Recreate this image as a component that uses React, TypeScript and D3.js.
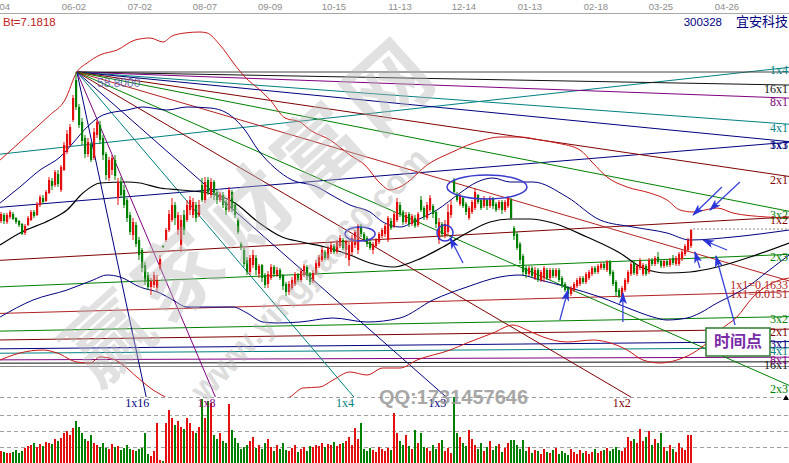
import React from 'react';
import * as d3 from 'd3';

// ---------------- data ----------------
const dateLabels = ['05-04','06-02','07-02','08-07','09-09','10-15','11-13','12-14','01-13','02-18','03-25','04-26'];
const dateIdx = [-1, 24.3, 46.3, 68, 89.7, 111, 133, 154.3, 176.3, 198.3, 220, 242];

// [open, close, high, low]
const candles: number[][] = [
  [43.9,44.6,44.8,43.7],[44.5,43.9,44.7,43.6],[43.8,44.5,44.7,43.6],[44.3,44.8,45.0,44.1],[44.6,44.1,44.8,44.0],
  [44.2,43.8,44.3,43.6],[43.9,43.5,44.0,43.3],[43.6,42.6,43.7,42.5],[42.7,43.4,43.6,42.5],[43.5,44.2,44.4,43.4],
  [44.0,44.8,45.0,43.9],[44.8,44.4,45.0,44.2],[44.5,45.6,45.8,44.4],[45.5,46.3,46.5,45.3],[46.2,45.8,46.5,45.6],
  [45.9,46.8,47.0,45.8],[46.7,48.0,48.3,46.6],[47.9,47.4,48.2,47.0],[47.5,48.8,49.0,47.3],[48.6,47.6,49.0,47.3],
  [47.0,49.3,49.5,46.8],[49.0,51.5,51.8,48.9],[50.8,52.6,53.0,50.6],[51.5,53.3,53.6,51.3],[54.0,56.2,56.5,53.8],
  [58.0,55.3,58.8,55.0],[55.3,53.5,55.6,53.2],[53.8,51.9,54.2,51.5],[52.2,50.6,52.5,50.2],[50.6,51.8,52.2,50.3],
  [51.5,50.0,51.8,49.8],[50.2,52.8,53.2,50.0],[52.5,53.8,54.0,52.2],[53.5,52.0,53.9,51.6],[52.2,50.5,52.5,50.0],
  [50.6,48.5,50.8,48.0],[48.2,50.0,50.3,47.9],[49.0,50.2,50.5,48.5],[50.0,48.4,50.5,48.0],[46.2,47.8,48.2,45.5],
  [47.8,46.5,48.3,46.2],[47.0,45.5,47.5,45.2],[46.0,44.2,46.2,43.8],[44.5,42.8,44.8,42.5],[42.5,43.8,44.2,42.0],
  [43.5,41.6,43.8,41.3],[42.0,40.5,42.3,40.0],[41.0,39.2,41.2,38.8],[39.5,37.8,39.8,37.5],[38.5,37.3,38.8,37.0],
  [37.3,37.9,38.2,36.5],[37.5,38.5,38.8,37.2],[37.2,38.0,38.5,36.8],[39.2,40.1,40.5,39.0],[41.4,41.3,41.5,41.2],
  [42.0,43.0,43.2,41.8],[43.0,44.6,45.0,42.8],[44.0,45.5,46.2,43.8],[45.5,44.2,45.8,43.5],[43.0,44.5,44.8,42.5],
  [41.5,44.0,44.5,40.8],[44.5,43.0,45.0,42.5],[44.0,45.5,46.0,43.8],[45.0,46.0,46.4,44.5],[44.5,45.8,46.2,44.2],
  [45.5,44.2,45.8,43.8],[44.5,45.5,46.0,44.3],[47.5,46.0,48.2,45.8],[46.0,47.8,48.3,45.7],[48.0,46.8,48.3,46.5],
  [46.5,47.8,48.2,46.2],[47.8,46.5,48.0,46.0],[46.8,46.0,47.0,45.6],[46.0,46.6,46.8,45.8],[46.5,45.5,46.8,45.2],
  [45.8,45.0,46.0,44.5],[45.0,47.0,47.3,44.8],[46.8,45.2,47.0,44.8],[45.5,44.5,45.8,44.2],[44.0,42.8,44.2,42.6],
  [41.6,41.3,41.8,41.0],[41.0,39.6,41.2,39.3],[40.0,38.8,40.3,38.5],[38.8,40.2,40.5,38.5],[39.5,40.5,41.0,39.2],
  [40.2,39.0,40.5,38.5],[38.6,39.4,39.6,38.2],[39.5,38.2,39.6,37.8],[38.5,37.5,38.7,37.2],[37.6,38.6,38.9,37.2],
  [38.2,39.3,39.6,38.0],[39.3,38.6,39.5,38.3],[38.5,39.0,39.3,38.3],[39.0,38.2,39.2,38.0],[38.5,37.4,38.6,37.0],
  [37.6,36.8,37.8,36.4],[36.8,37.6,37.9,36.5],[37.2,38.0,38.3,37.0],[37.6,38.6,38.8,37.4],[38.5,38.0,38.7,37.8],
  [38.0,38.9,39.2,37.8],[38.5,39.4,39.6,38.3],[39.3,38.4,39.5,38.0],[38.6,37.8,38.8,37.5],[37.9,38.7,39.0,37.7],
  [38.7,39.7,40.0,38.5],[39.4,40.3,40.5,39.2],[40.0,41.0,41.3,39.8],[40.8,40.2,41.0,40.0],[40.2,41.2,41.4,40.0],
  [40.8,41.5,41.8,40.6],[41.4,40.8,41.6,40.6],[40.8,41.8,42.0,40.6],[41.4,42.2,42.5,41.2],[42.0,41.2,42.2,41.0],
  [41.0,41.8,42.0,40.2],[40.0,41.5,41.8,39.4],[40.8,42.2,42.5,40.5],[41.5,42.8,43.0,41.2],[41.0,43.4,43.6,40.6],
  [43.4,42.6,43.6,42.3],[42.6,42.0,42.8,41.8],[42.2,41.6,42.4,41.3],[41.8,41.2,42.0,41.0],[41.0,41.6,41.8,40.6],
  [41.4,42.0,42.2,41.2],[41.8,42.6,42.8,41.6],[42.4,43.0,43.2,42.2],[42.6,43.4,43.6,42.3],[42.0,44.2,44.4,41.8],
  [43.9,43.2,44.2,43.0],[43.4,44.6,44.8,43.2],[44.0,45.8,46.2,43.8],[45.5,44.6,45.8,44.3],[44.8,43.8,45.0,43.5],
  [43.8,44.5,44.8,43.6],[44.6,43.6,44.8,43.3],[43.6,44.4,44.6,43.4],[44.2,43.4,44.5,43.2],[43.5,44.6,44.8,43.3],
  [46.0,45.0,46.4,44.8],[45.2,44.3,45.4,44.0],[44.2,45.5,45.8,44.0],[45.0,46.2,46.5,44.8],[45.4,44.6,45.6,44.2],
  [44.8,43.6,45.0,43.2],[42.0,43.8,44.2,41.6],[43.6,42.6,43.8,42.3],[42.4,43.6,44.0,42.2],[42.8,44.8,45.6,42.4],
  [44.5,45.5,46.0,44.2],[48.0,46.8,48.2,46.6],[46.6,46.0,46.8,45.8],[45.6,46.4,46.6,45.4],[46.2,45.4,46.4,45.2],
  [45.6,44.8,45.8,44.5],[44.2,45.2,45.4,44.0],[44.8,45.8,46.0,44.6],[45.2,46.8,47.2,45.0],[46.5,45.8,46.6,45.6],
  [46.0,45.2,46.2,45.0],[45.4,46.2,46.4,45.2],[46.0,45.4,46.2,45.0],[45.4,46.2,46.4,45.2],[46.2,45.4,46.3,45.1],
  [45.6,45.0,45.8,44.8],[45.2,45.8,46.0,45.0],[45.8,45.0,46.0,44.6],[45.0,45.8,46.0,44.8],[45.4,46.2,46.4,45.2],
  [46.0,44.2,46.2,44.0],[43.2,42.4,43.4,42.0],[42.6,41.2,42.8,41.0],[41.6,40.0,41.8,39.6],[40.4,38.8,40.6,38.5],
  [39.2,38.6,39.4,38.2],[38.6,39.2,39.4,38.4],[39.2,38.4,39.4,38.2],[38.2,39.0,39.3,38.0],[39.0,38.0,39.2,37.8],
  [38.0,38.8,39.0,37.8],[38.2,39.2,39.4,37.8],[39.0,38.2,39.2,38.0],[38.2,39.0,39.2,38.0],[39.0,38.4,39.2,38.2],
  [38.4,39.0,39.2,38.2],[39.0,38.0,39.2,37.8],[38.2,37.4,38.4,37.2],[37.6,37.0,37.8,36.8],[37.2,36.6,37.4,36.3],
  [36.6,37.2,37.4,36.4],[37.0,37.6,37.8,36.8],[37.4,38.0,38.2,37.2],[37.6,38.2,38.4,37.4],[38.2,37.8,38.4,37.6],
  [37.8,38.6,38.8,37.6],[38.2,38.8,39.0,38.0],[38.6,39.2,39.4,38.4],[39.2,38.8,39.4,38.6],[38.8,39.4,39.6,38.6],
  [39.2,39.6,39.8,39.0],[39.6,39.2,39.8,39.0],[39.0,39.8,40.0,38.8],[39.8,38.6,40.0,38.4],[38.8,37.6,39.0,37.4],
  [37.8,36.8,38.0,36.4],[37.0,36.4,37.2,36.2],[36.4,37.2,37.4,36.0],[37.0,38.0,38.2,36.8],[37.8,38.8,39.0,37.6],
  [38.6,39.6,39.8,38.4],[39.7,38.7,39.9,38.5],[38.6,39.4,39.6,38.4],[39.2,39.9,40.2,39.0],[38.6,39.5,39.7,38.4],
  [39.4,38.6,39.6,38.4],[38.8,40.0,40.2,38.6],[40.0,39.6,40.2,39.4],[39.6,40.2,40.4,39.4],[40.3,39.8,40.8,39.6],
  [39.9,39.4,40.0,39.2],[39.4,39.9,40.0,39.2],[39.9,39.5,40.0,39.3],[39.5,40.0,40.2,39.3],[40.2,39.7,40.5,39.5],
  [39.6,40.2,40.4,39.4],[39.6,40.6,40.8,39.4],[40.1,40.8,41.0,39.9],[40.6,41.4,41.6,40.4],[41.0,42.0,42.2,40.8],
  [41.4,43.0,43.1,41.2],
];

const volumes: number[] = [
  12,11,10,10,11,13,10,12,15,17, 18,20,16,19,17,21,20,19,24,22, 25,30,32,28,35,42,36,30,24,22,
  28,20,18,16,20,15,14,19,16,17, 13,15,18,14,13,12,14,15,30,9, 7,12,40,3,2,40,53,45,38,42,
  36,34,45,40,32,30,36,64,45,62, 60,28,24,30,22,20,59,33,25,20, 14,16,18,22,26,15,18,14,20,24,
  16,12,18,14,20,13,12,15,18,11, 14,16,12,17,16,18,17,20,16,19, 18,21,17,19,20,22,26,18,35,24,
  40,14,12,15,13,11,16,14,12,15, 13,50,30,22,18,28,17,14,33,20, 30,16,15,12,18,14,20,23,12,15,
  10,66,30,26,20,17,33,24,18,14, 20,12,16,22,13,17,19,11,15,20, 23,23,18,14,23,12,16,10,13,12,
  9,14,11,10,13,15,9,12,10,8, 14,11,9,13,10,12,9,11,14,10, 12,13,15,12,14,16,13,12,15,26,
  22,24,20,34,22,26,32,18,24,20, 30,16,12,18,14,11,20,15,13,28, 28,
];
const volGrid = [16, 32, 48, 66];

// bands: [bar index, price]
const redUpper = [[-0.3,50.0],[9.7,52.7],[16.3,54.5],[21.3,56.0],[25.3,58.8],[28.7,59.7],[33,60.5],[38.7,61.0],[44.7,62.0],[49.7,62.2],[54,61.8],[57,62.4],[61.3,62.7],[66.3,62.8],[68.7,62.7],[73,61.5],[78,59.5],[81.3,58.3],[86.3,57.0],[89.7,56.0],[94.7,54.2],[99.7,53.8],[103,53.0],[109.7,52.0],[116.3,50.5],[121.3,49.5],[126.3,47.7],[129.7,47.0],[133,47.3],[143,49.7],[149.7,50.7],[160.7,52.0],[166.3,52.3],[173,52.3],[179.7,52.0],[185.3,51.7],[193,51.0],[197.3,49.7],[202,48.3],[208.7,47.3],[216.3,46.7],[222,46.0],[226.3,45.0],[230.7,44.8],[238.7,45.2],[244,44.7],[255.3,44.3],[262.7,44.2]];
const redLower = [[-0.3,30.0],[6.3,30.7],[14,31.0],[18.7,30.7],[25.3,29.8],[29.7,29.7],[33,30.3],[37.3,30.1],[40.7,29.5],[45.3,28.3],[50.7,27.0],[55.3,26.2],[66.3,24.0],[83,24.0],[94,26.0],[96.3,26.3],[100.7,27.2],[106.3,27.3],[110.7,28.0],[116.3,28.8],[122,28.5],[127.3,29.2],[133,29.2],[138.7,30.0],[149.7,31.0],[155.3,31.7],[164,32.7],[170.7,33.5],[175.3,33.0],[180.7,32.3],[188.7,31.8],[197.3,32.0],[202,31.8],[208.7,31.0],[214,30.0],[219.7,29.7],[225.3,30.0],[230.7,30.7],[235.3,31.7],[239.7,33.0],[245.3,34.3],[250.7,36.3],[259.7,38.0],[262.7,38.2]];
const blueUpper = [[-0.3,45.7],[6.3,47.3],[13,49.0],[19.7,50.3],[24,51.7],[28.7,53.3],[34,54.5],[42,55.0],[47.3,55.3],[55.3,55.0],[62,55.3],[69.7,55.2],[75.3,54.7],[81.3,53.0],[85.7,51.0],[91.3,49.2],[97,48.0],[104.7,47.4],[111.3,46.3],[116.3,45.5],[123,44.8],[127.3,43.8],[133,43.3],[138.7,44.0],[145.3,45.0],[153,46.7],[158.7,47.8],[164,48.2],[169.7,47.8],[177.3,47.8],[188.7,46.3],[199.7,44.0],[210.7,43.3],[222,42.7],[229.7,42.0],[244,42.3],[262.7,43.0]];
const blueLower = [[-0.3,34.3],[10.7,36.0],[22,37.0],[30.7,38.0],[35.3,38.5],[39.7,38.3],[46.3,37.3],[53,36.7],[57.3,36.0],[62,35.3],[77.3,35.3],[82,34.7],[87.3,33.8],[92,33.7],[99.7,33.8],[110.7,34.2],[122,33.8],[133,34.2],[144,36.0],[155.3,37.3],[166.3,38.3],[173,38.5],[179.7,38.0],[188.7,37.3],[199.7,36.3],[210.7,35.0],[217.3,34.3],[222,34.0],[228.7,34.2],[233,34.7],[238.7,35.7],[244,36.5],[249.7,37.5],[255.3,38.8],[262.7,40.5]];
const maLine = [[-0.3,41.5],[6.3,42.7],[16.3,44.0],[22,45.0],[27.3,46.7],[33,47.7],[42,47.8],[46.3,47.7],[53,47.2],[59.7,47.0],[69,46.7],[78,45.7],[85.7,43.8],[93.7,42.3],[100.3,41.8],[108,41.3],[116.3,40.5],[123,39.7],[130.7,39.3],[138.7,40.0],[147.3,41.3],[155.3,42.7],[163,43.8],[169.7,44.1],[176.3,44.1],[184,43.7],[195.3,42.3],[206.3,40.7],[214,39.2],[222,38.7],[229.7,38.8],[238.7,39.3],[249.7,40.3],[262.7,41.7]];

// Gann fans
const apexIdx = 25.3, apexPrice = 58.8, fan1Unit = 0.088;
const fan2OriginIdx = -643.7, fan2OriginPrice = 29.35, fan2Unit = 0.00825;
const fanNames = ['16x1','8x1','4x1','3x1','2x1','3x2','1x1','2x3','1x2','1x3','1x4','1x8','1x16'];
const fanRatios = [1/16,1/8,1/4,1/3,1/2,2/3,1,3/2,2,3,4,8,16];
const fanColors = ['#111111','#800080','#008080','#000080','#800000','#008000','#b22222','#008000','#800000','#000080','#008080','#800080','#000080'];
const fan1Label1x1 = '1x1=0.1633';
const fan2Label1x1 = '1x1=0.0151';

// annotations: [tailIdx, tailPrice, headIdx, headPrice]
const arrows = [
  [154,39.7,149.7,42.2],[186.3,34.0,189,37.0],[207.3,33.8,207.3,36.7],
  [240.3,47.3,230.7,44.5],[246.3,47.8,236.3,45.0],[242,41.0,234,42.0],
  [233,39.2,231.3,40.8],[244.7,33.5,238.3,40.4],
];
// [idx, price, rx, ry]
const ellipses = [[119.7,42.6,15,7],[148,42.7,8,8],[162,47.3,40,12]];

export default function App() {
  const W = 789, H = 463, PANE_TOP = 14, PANE_BOTTOM = 397;
  const x = d3.scaleLinear().domain([0, 262.67]).range([1, 789]);
  const y = d3.scaleLinear().domain([66, 26.3]).range([0, 397]);
  const yv = d3.scaleLinear().domain([0, 66]).range([463, 397]);
  const line = d3.line<number[]>().x(d => x(d[0])).y(d => y(d[1])).curve(d3.curveMonotoneX);
  const xEnd = 262.67;
  const bottomPrice = y.invert(PANE_BOTTOM);

  const UP = '#e41010', DOWN = '#008000';
  const serif = "'Liberation Serif', 'DejaVu Serif', serif";

  // fan 1 (descending from apex)
  const fan1 = fanRatios.map((r, i) => {
    const slope = fan1Unit * r;
    const pEnd = apexPrice - slope * (xEnd - apexIdx);
    let ex = xEnd, ep = pEnd, hitsBottom = false;
    if (pEnd < bottomPrice) { ex = apexIdx + (apexPrice - bottomPrice) / slope; ep = bottomPrice; hitsBottom = true; }
    return { name: fanNames[i] === '1x1' ? fan1Label1x1 : fanNames[i], color: fanColors[i], ex, ep, hitsBottom };
  });
  // fan 2 (rising from far-left low)
  const fan2 = fanRatios.slice(0, 11).map((r, i) => {
    const slope = fan2Unit * r;
    const p0 = fan2OriginPrice + slope * (0 - 1 - fan2OriginIdx);
    const pEnd = fan2OriginPrice + slope * (xEnd - fan2OriginIdx);
    return { name: fanNames[i] === '1x1' ? fan2Label1x1 : fanNames[i], color: fanColors[i], p0, pEnd };
  });

  const last = candles[candles.length - 1];

  return (
    <svg width={W} height={H} style={{ position: 'absolute', left: 0, top: 0, display: 'block' }}
      fontFamily="'Liberation Sans', Arial, sans-serif">
      <defs>
        <clipPath id="pane"><rect x={0} y={PANE_TOP} width={W} height={PANE_BOTTOM - PANE_TOP} /></clipPath>
        <marker id="ah" viewBox="0 0 12 8" refX={11} refY={4} markerWidth={12} markerHeight={8}
          markerUnits="userSpaceOnUse" orient="auto">
          <path d="M0,0 L12,4 L0,8 L3,4 z" fill="#2a34d8" />
        </marker>
      </defs>
      <rect x={0} y={0} width={W} height={H} fill="#ffffff" />

      {/* top date axis */}
      <line x1={0} x2={W} y1={13.5} y2={13.5} stroke="#a8a8a8" />
      {dateLabels.map((d, i) => (
        <text key={d} x={x(dateIdx[i])} y={10} fontSize={9.5} fill="#8c8c8c" textAnchor="middle">{d}</text>
      ))}

      {/* volume grid */}
      {volGrid.map(v => (
        <line key={v} x1={0} x2={W} y1={yv(v) + 0.5} y2={yv(v) + 0.5} stroke="#a0a0a0" strokeDasharray="4,3" />
      ))}

      {/* volume bars */}
      {volumes.map((v, i) => {
        const c = candles[i];
        const up = c ? c[1] >= c[0] : true;
        return <rect key={i} x={x(i) - 1} y={yv(v)} width={2} height={yv(0) - yv(v)} fill={up ? UP : DOWN} />;
      })}

      <g clipPath="url(#pane)">
        {/* fan 2 lines */}
        <line x1={0} x2={W} y1={y(fan2OriginPrice)} y2={y(fan2OriginPrice)} stroke="#8a8a8a" />
        {fan2.map((f, i) => (
          <line key={'f2' + i} x1={x(-1)} y1={y(f.p0)} x2={x(xEnd)} y2={y(f.pEnd)} stroke={f.color} strokeWidth={1} />
        ))}
        {/* fan 1 lines */}
        <line x1={x(apexIdx)} x2={W} y1={y(apexPrice)} y2={y(apexPrice)} stroke="#444444" />
        {fan1.map((f, i) => (
          <line key={'f1' + i} x1={x(apexIdx)} y1={y(apexPrice)} x2={x(f.ex)} y2={y(f.ep)} stroke={f.color} strokeWidth={1} />
        ))}

        {/* bands */}
        <path d={line(redUpper) || ''} fill="none" stroke="#c81818" strokeWidth={1} />
        <path d={line(redLower) || ''} fill="none" stroke="#c81818" strokeWidth={1} />
        <path d={line(blueUpper) || ''} fill="none" stroke="#000080" strokeWidth={1} />
        <path d={line(blueLower) || ''} fill="none" stroke="#000080" strokeWidth={1} />
        <path d={line(maLine) || ''} fill="none" stroke="#000000" strokeWidth={1.2} />

        {/* candles */}
        {candles.map((c, i) => {
          const [o, cl, h, l] = c;
          const up = cl >= o;
          const col = up ? UP : DOWN;
          const top = y(Math.max(o, cl)), bot = y(Math.min(o, cl));
          return (
            <g key={'c' + i}>
              <line x1={x(i)} x2={x(i)} y1={y(h)} y2={y(l)} stroke={col} strokeWidth={1} />
              <rect x={x(i) - 1} y={top} width={2.2} height={Math.max(1, bot - top)} fill={col} />
            </g>
          );
        })}

        {/* last high dotted line */}
        <line x1={x(candles.length - 1) + 2} x2={W} y1={y(last[2])} y2={y(last[2])} stroke="#888" strokeDasharray="2,2" />
      </g>

      {/* fan labels */}
      {fan1.map((f, i) => f.hitsBottom ? (
        <text key={'l1' + i} x={x(f.ex) - 9} y={404} fontSize={12} fontFamily={serif} fill={f.color}
          textAnchor="middle" dominantBaseline="middle">{f.name}</text>
      ) : (
        <text key={'l1' + i} x={788} y={y(f.ep) + 5} fontSize={12} fontFamily={serif} fill={f.color}
          textAnchor="end" dominantBaseline="middle">{f.name}</text>
      ))}
      {fan2.map((f, i) => (
        <text key={'l2' + i} x={788} y={y(f.pEnd) + 4} fontSize={12} fontFamily={serif} fill={f.color}
          textAnchor="end" dominantBaseline="middle">{f.name}</text>
      ))}

      {/* annotations */}
      {ellipses.map((e, i) => (
        <ellipse key={'e' + i} cx={x(e[0])} cy={y(e[1])} rx={e[2]} ry={e[3]} fill="none" stroke="#3a3ad0" strokeWidth={1.5} />
      ))}
      {arrows.map((a, i) => (
        <line key={'a' + i} x1={x(a[0])} y1={y(a[1])} x2={x(a[2])} y2={y(a[3])} stroke="#3a44d8" strokeWidth={1.3} markerEnd="url(#ah)" />
      ))}

      {/* watermark */}
      <g opacity={0.42} pointerEvents="none">
        <text x={272} y={232} fontSize={84} fontWeight="bold" fill="#b8b8b8" textAnchor="middle"
          fontFamily="'Noto Sans CJK SC', sans-serif" letterSpacing={10} transform="rotate(-42 272 232)">赢家财富网</text>
        <text x={318} y={282} fontSize={34} fontWeight="bold" fill="#b0b0b0" textAnchor="middle"
          transform="rotate(-47 318 282)">www.yingjia360.com</text>
      </g>
      <text x={379} y={404} fontSize={20} fontWeight="bold" fill="#9a9a9a" opacity={0.85}>QQ:1731457646</text>

      {/* headers */}
      <text x={3} y={26} fontSize={11.5} fill="#c02020">Bt=7.1818</text>
      <text x={97} y={87} fontSize={12} fill="#5a5ab0" opacity={0.85}>{apexPrice.toFixed(4)}</text>
      <text x={722} y={26} fontSize={11.5} fill="#000080" textAnchor="end">300328</text>
      <text x={788} y={26} fontSize={13} fill="#000080" textAnchor="end" fontFamily="'Noto Sans CJK SC', sans-serif">宜安科技</text>

      {/* time point box */}
      <rect x={x(235)} y={y(33.2)} width={64} height={28} fill="#ffffff" stroke="#2e7d32" strokeWidth={1.5} />
      <text x={x(235) + 32} y={y(33.2) + 15} fontSize={16} fontWeight="bold" fill="#7a2aa8" textAnchor="middle"
        dominantBaseline="middle" fontFamily="'Noto Sans CJK SC', sans-serif">时间点</text>

      <path d="M783,400 L789,400 L786,395 Z" fill="#000" />
    </svg>
  );
}
